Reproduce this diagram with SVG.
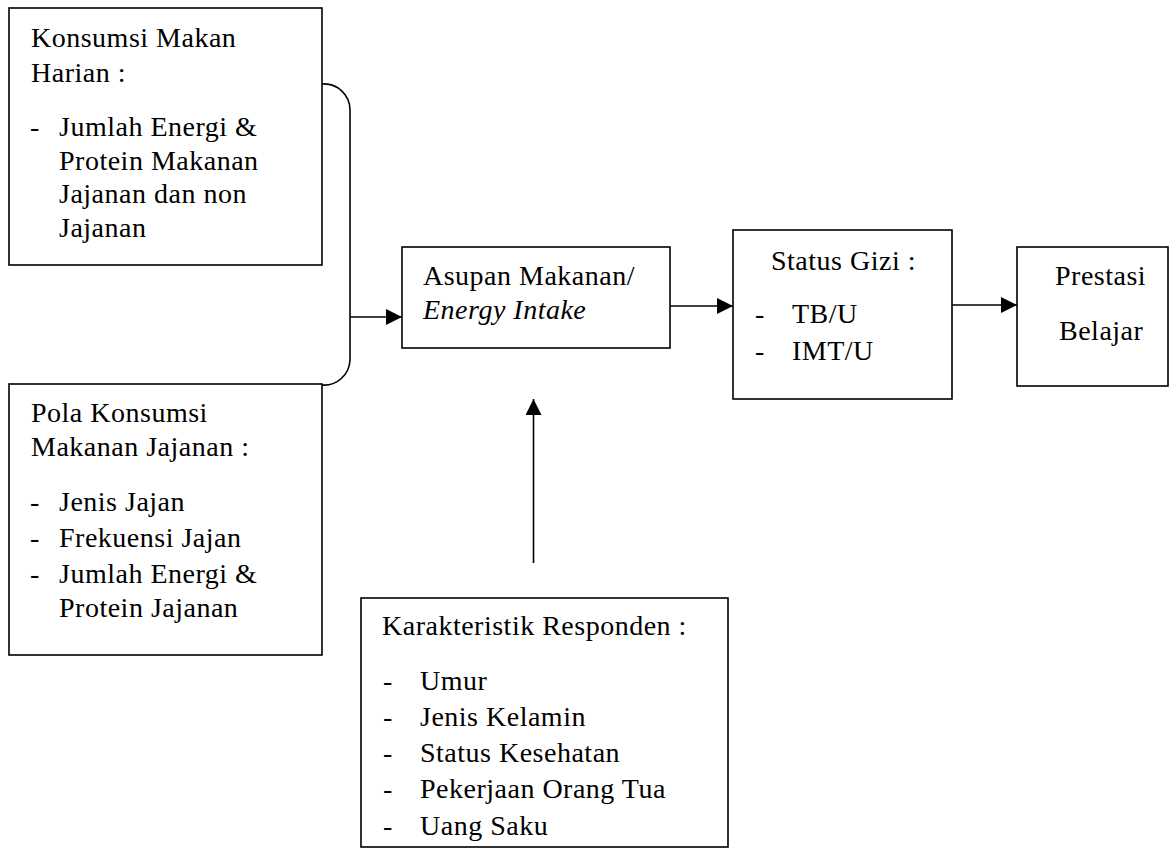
<svg xmlns="http://www.w3.org/2000/svg" width="1171" height="850" viewBox="0 0 1171 850">
<style>
.box{fill:#fff;stroke:#000;stroke-width:1.6}
.t{font-family:"Liberation Serif","Times New Roman",serif;font-size:28px;letter-spacing:0.5px;fill:#000}
.it{font-style:italic}
.ln{fill:none;stroke:#000;stroke-width:1.6}
</style>
<defs>
<marker id="ah" viewBox="0 0 16 16" refX="16" refY="8" markerWidth="16" markerHeight="16" markerUnits="userSpaceOnUse" orient="auto">
<path d="M0,0 L16,8 L0,16 Z" fill="#000"/>
</marker>
<clipPath id="clipK"><rect x="361" y="598" width="367" height="247"/></clipPath>
</defs>
<rect width="1171" height="850" fill="#fff"/>
<g id="connectors">
<path class="ln" d="M322,84 A26,26 0 0 1 350,110 L350,360 A26,26 0 0 1 322,385"/>
<line class="ln" x1="350" y1="317" x2="402" y2="317" marker-end="url(#ah)"/>
<line class="ln" x1="670" y1="306" x2="733" y2="306" marker-end="url(#ah)"/>
<line class="ln" x1="952" y1="305" x2="1017" y2="305" marker-end="url(#ah)"/>
<line class="ln" x1="533.5" y1="563" x2="533.5" y2="399" marker-end="url(#ah)"/>
</g>
<g id="konsumsi">
<rect class="box" x="9" y="8" width="313" height="257"/>
<text class="t" x="31" y="47">Konsumsi Makan</text>
<text class="t" x="31" y="82">Harian :</text>
<text class="t" x="30" y="136">-</text>
<text class="t" x="59" y="136">Jumlah Energi &amp;</text>
<text class="t" x="59" y="170">Protein Makanan</text>
<text class="t" x="59" y="203">Jajanan dan non</text>
<text class="t" x="59" y="237">Jajanan</text>
</g>
<g id="pola">
<rect class="box" x="9" y="384" width="313" height="271"/>
<text class="t" x="31" y="422">Pola Konsumsi</text>
<text class="t" x="31" y="456">Makanan Jajanan :</text>
<text class="t" x="30" y="511">-</text>
<text class="t" x="59" y="511">Jenis Jajan</text>
<text class="t" x="30" y="547">-</text>
<text class="t" x="59" y="547">Frekuensi Jajan</text>
<text class="t" x="30" y="583">-</text>
<text class="t" x="59" y="583">Jumlah Energi &amp;</text>
<text class="t" x="59" y="617">Protein Jajanan</text>
</g>
<g id="asupan">
<rect class="box" x="402" y="247" width="268" height="101"/>
<text class="t" x="423" y="285">Asupan Makanan/</text>
<text class="t it" x="423" y="319">Energy Intake</text>
</g>
<g id="status">
<rect class="box" x="733" y="230" width="219" height="169"/>
<text class="t" x="771" y="270">Status Gizi :</text>
<text class="t" x="755" y="323">-</text>
<text class="t" x="792" y="323">TB/U</text>
<text class="t" x="755" y="360">-</text>
<text class="t" x="792" y="360">IMT/U</text>
</g>
<g id="prestasi">
<rect class="box" x="1017" y="247" width="151" height="139"/>
<text class="t" x="1055" y="285">Prestasi</text>
<text class="t" x="1059" y="340">Belajar</text>
</g>
<g id="karakteristik">
<rect class="box" x="361" y="598" width="367" height="249"/>
<g clip-path="url(#clipK)">
<text class="t" x="382" y="635">Karakteristik Responden :</text>
<text class="t" x="383" y="690">-</text>
<text class="t" x="420" y="690">Umur</text>
<text class="t" x="383" y="726">-</text>
<text class="t" x="420" y="726">Jenis Kelamin</text>
<text class="t" x="383" y="762">-</text>
<text class="t" x="420" y="762">Status Kesehatan</text>
<text class="t" x="383" y="798">-</text>
<text class="t" x="420" y="798">Pekerjaan Orang Tua</text>
<text class="t" x="383" y="835">-</text>
<text class="t" x="420" y="835">Uang Saku</text>
</g>
</g>
</svg>
